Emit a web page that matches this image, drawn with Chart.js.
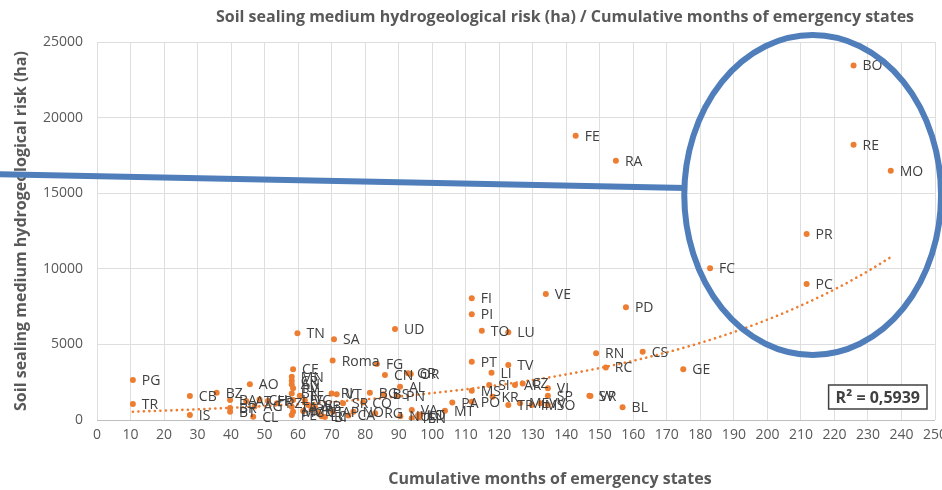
<!DOCTYPE html>
<html>
<head>
<meta charset="utf-8">
<script src="https://cdn.jsdelivr.net/npm/chart.js@4.4.1/dist/chart.umd.min.js"></script>
<style>
  html, body { margin: 0; padding: 0; background: #fff; }
  .wrap { position: relative; width: 942px; height: 490px; overflow: hidden; }
  #chart { position: absolute; left: 0; top: 0; }
  .ttl { position: absolute; left: 190px; width: 750px; top: 5px; text-align: center; font: bold 16px "Open Sans"; color: #595959; white-space: nowrap; }
  .xttl { position: absolute; left: 350px; width: 400px; top: 467px; text-align: center; font: bold 16px "Open Sans"; color: #595959; white-space: nowrap; }
</style>
</head>
<body>
<div class="wrap">
  <canvas id="chart" width="942" height="490"></canvas>
  <div class="ttl">Soil sealing medium hydrogeological risk (ha) / Cumulative months of emergency states</div>
  <div class="xttl">Cumulative months of emergency states</div>
</div>
<script>
// Province codes, months of emergency state (x) and sealed area in ha (y)
const provinces = [
  'BO', 'RE', 'MO', 'PR', 'FC', 'PC', 'FE', 'RA', 'VE', 'PD',
  'FI', 'PI', 'TO', 'LU', 'UD', 'SA', 'TN', 'Roma', 'RN', 'CS',
  'RC', 'GE', 'SV', 'VR', 'BL', 'PT', 'LI', 'TV', 'SI', 'MS',
  'KR', 'PO', 'PA', 'MT', 'AR', 'CZ', 'TP', 'ME', 'IM', 'VV',
  'VI', 'SP', 'SO', 'FG', 'CN', 'GR', 'OR', 'AL', 'BG', 'BS',
  'PN', 'RI', 'VT', 'SR', 'CO', 'AP', 'NO', 'RG', 'NU', 'TS',
  'EN', 'VA', 'LO', 'LT', 'PG', 'TR', 'IS', 'CB', 'BZ', 'AO',
  'BA', 'BR', 'BT', 'CL', 'AT', 'AG', 'CH', 'FR', 'PZ', 'CE',
  'MN', 'CR', 'AN', 'PV', 'BN', 'LE', 'TA', 'MC', 'PE', 'MB',
  'AV', 'CT', 'SS', 'LC', 'VC', 'VB', 'BI', 'CA', 'TE'
];
const months = [
  225.7, 225.7, 236.8, 211.7, 182.9, 211.7, 142.8, 154.8, 133.9, 157.8,
  111.8, 111.8, 114.8, 122.7, 88.9, 70.7, 59.8, 70.3, 148.9, 162.8,
  151.8, 174.9, 146.9, 147.2, 156.8, 111.8, 117.7, 122.7, 117.0, 111.8,
  118.0, 111.8, 106.0, 103.8, 124.7, 127.0, 122.7, 126.2, 129.7, 132.2,
  134.5, 134.5, 134.5, 83.5, 85.9, 92.8, 93.6, 90.4, 81.4, 85.5,
  89.5, 70.0, 71.5, 73.4, 79.4, 70.4, 76.5, 83.0, 90.5, 93.9,
  96.0, 93.9, 95.8, 96.5, 10.7, 10.7, 27.7, 27.7, 35.7, 45.6,
  39.7, 39.7, 39.7, 46.6, 44.5, 47.0, 48.5, 51.0, 53.7, 58.5,
  58.1, 58.1, 58.1, 58.5, 58.1, 58.5, 58.1, 58.5, 58.1, 61.5,
  64.0, 66.0, 63.0, 67.0, 62.0, 65.0, 68.0, 75.0, 60.5
];
const sealing = [
  23450, 18200, 16480, 12300, 10030, 9000, 18800, 17150, 8330, 7450,
  8050, 6990, 5910, 5800, 6020, 5340, 5730, 3930, 4410, 4520,
  3480, 3350, 1610, 1580, 840, 3860, 3130, 3640, 2310, 1940,
  1540, 1210, 1150, 620, 2310, 2420, 990, 1100, 990, 1100,
  2100, 1600, 1000, 3700, 2980, 3090, 3050, 2200, 1800, 1700,
  1590, 1760, 1700, 1100, 1150, 550, 550, 440, 250, 110,
  100, 660, 330, 360, 2645, 1060, 330, 1590, 1800, 2360,
  1320, 800, 550, 220, 1250, 900, 1350, 1250, 1100, 3350,
  2860, 2600, 2350, 2100, 1760, 1320, 880, 550, 330, 600,
  700, 500, 1000, 250, 1300, 900, 200, 300, 1600
];
const xTicks = { min: 0, max: 250, step: 10 };
const yTicks = { min: 0, max: 25000, step: 5000 };
const r2Text = 'R² = 0,5939';

const orange = '#ED7D31';
const grey = '#595959';
const blue = '#4F7EBB';

// exponential trendline, least squares on ln(y) like Excel does
function expFit(xs, ys) {
  let sx = 0, sy = 0, sxx = 0, sxy = 0;
  const n = xs.length;
  xs.forEach((x, i) => {
    const ly = Math.log(ys[i]);
    sx += x; sy += ly; sxx += x * x; sxy += x * ly;
  });
  const b = (n * sxy - sx * sy) / (n * sxx - sx * sx);
  const a = Math.exp((sy - b * sx) / n);
  return { a, b };
}
const fit = expFit(months, sealing);
const xLo = Math.min(...months), xHi = Math.max(...months);
const trend = [];
for (let x = xLo; x < xHi; x += 2) trend.push({ x, y: fit.a * Math.exp(fit.b * x) });
trend.push({ x: xHi, y: fit.a * Math.exp(fit.b * xHi) });

const points = months.map((x, i) => ({ x, y: sealing[i] }));

// data labels to the right of each dot
const labelPlugin = {
  id: 'pointLabels',
  afterDatasetsDraw(chart) {
    const meta = chart.getDatasetMeta(1);
    const ctx = chart.ctx;
    ctx.save();
    ctx.font = '14px "Open Sans"';
    ctx.fillStyle = '#404040';
    ctx.textBaseline = 'middle';
    meta.data.forEach((pt, i) => ctx.fillText(provinces[i], pt.x + 9, pt.y + 1));
    ctx.restore();
  }
};

// hand-drawn highlight (ellipse + pointer line) and the R² box
const overlayPlugin = {
  id: 'overlay',
  afterDraw(chart) {
    const { ctx, chartArea } = chart;
    const xs = chart.scales.x, ys = chart.scales.y;
    ctx.save();
    // R² box
    ctx.font = 'bold 16px "Open Sans"';
    const tw = ctx.measureText(r2Text).width;
    const bw = tw + 14, bh = 24;
    const bx = chartArea.right - 8 - bw, by = chartArea.bottom - 11 - bh;
    ctx.fillStyle = '#fff';
    ctx.fillRect(bx, by, bw, bh);
    ctx.strokeStyle = '#404040';
    ctx.lineWidth = 1.5;
    ctx.strokeRect(bx, by, bw, bh);
    ctx.fillStyle = '#404040';
    ctx.textBaseline = 'middle';
    ctx.fillText(r2Text, bx + 7, by + bh / 2 + 1);

    // ellipse around the Emilia-Romagna group
    const cx = xs.getPixelForValue(213.5), cy = ys.getPixelForValue(14880);
    const rx = xs.getPixelForValue(213.5 + 38.3) - cx;
    const ry = cy - ys.getPixelForValue(14880 + 10580);
    ctx.strokeStyle = blue;
    ctx.lineWidth = 6;
    ctx.beginPath();
    ctx.ellipse(cx, cy, rx, ry, 0, 0, Math.PI * 2);
    ctx.stroke();
    ctx.beginPath();
    ctx.moveTo(xs.getPixelForValue(-29), ys.getPixelForValue(16250));
    ctx.lineTo(cx - rx + 2, ys.getPixelForValue(15350));
    ctx.stroke();
    ctx.restore();
  }
};

const ctx = document.getElementById('chart').getContext('2d');
new Chart(ctx, {
  type: 'scatter',
  data: {
    datasets: [
      {
        type: 'line', label: 'Expon.', data: trend,
        borderColor: orange, borderWidth: 2.6, borderDash: [0.1, 5.4], borderCapStyle: 'round',
        pointRadius: 0, fill: false, tension: 0
      },
      {
        label: 'Provinces', data: points,
        pointRadius: 3, pointBackgroundColor: orange, pointBorderWidth: 0, pointHoverRadius: 3
      }
    ]
  },
  options: {
    responsive: false,
    animation: false,
    devicePixelRatio: 1,
    layout: { padding: { top: 42, right: 7, left: 0, bottom: 0 } },
    plugins: { legend: { display: false }, tooltip: { enabled: false }, title: { display: false } },
    scales: {
      x: {
        type: 'linear', min: xTicks.min, max: xTicks.max,
        ticks: { stepSize: xTicks.step, color: grey, font: { family: 'Open Sans', size: 14 }, maxRotation: 0, autoSkip: false, padding: 7 },
        grid: { color: '#dedede', drawTicks: false },
        border: { display: false },
        afterFit(s) { s.height = 70; s.paddingLeft = 0; s.paddingRight = 0; }
      },
      y: {
        min: yTicks.min, max: yTicks.max,
        ticks: { stepSize: yTicks.step, color: grey, font: { family: 'Open Sans', size: 14 }, padding: 14, callback: v => String(v) },
        grid: { color: c => c.tick.value === 0 ? '#bfbfbf' : '#dedede', drawTicks: false },
        border: { display: false },
        title: {
          display: true, text: 'Soil sealing medium hydrogeological risk (ha)',
          color: grey, font: { family: 'Open Sans', size: 16, weight: 'bold' }, padding: { top: 12, bottom: 0 }
        },
        afterFit(s) { s.width = 97; s.paddingTop = 0; s.paddingBottom = 0; }
      }
    }
  },
  plugins: [labelPlugin, overlayPlugin]
});
</script>
</body>
</html>
